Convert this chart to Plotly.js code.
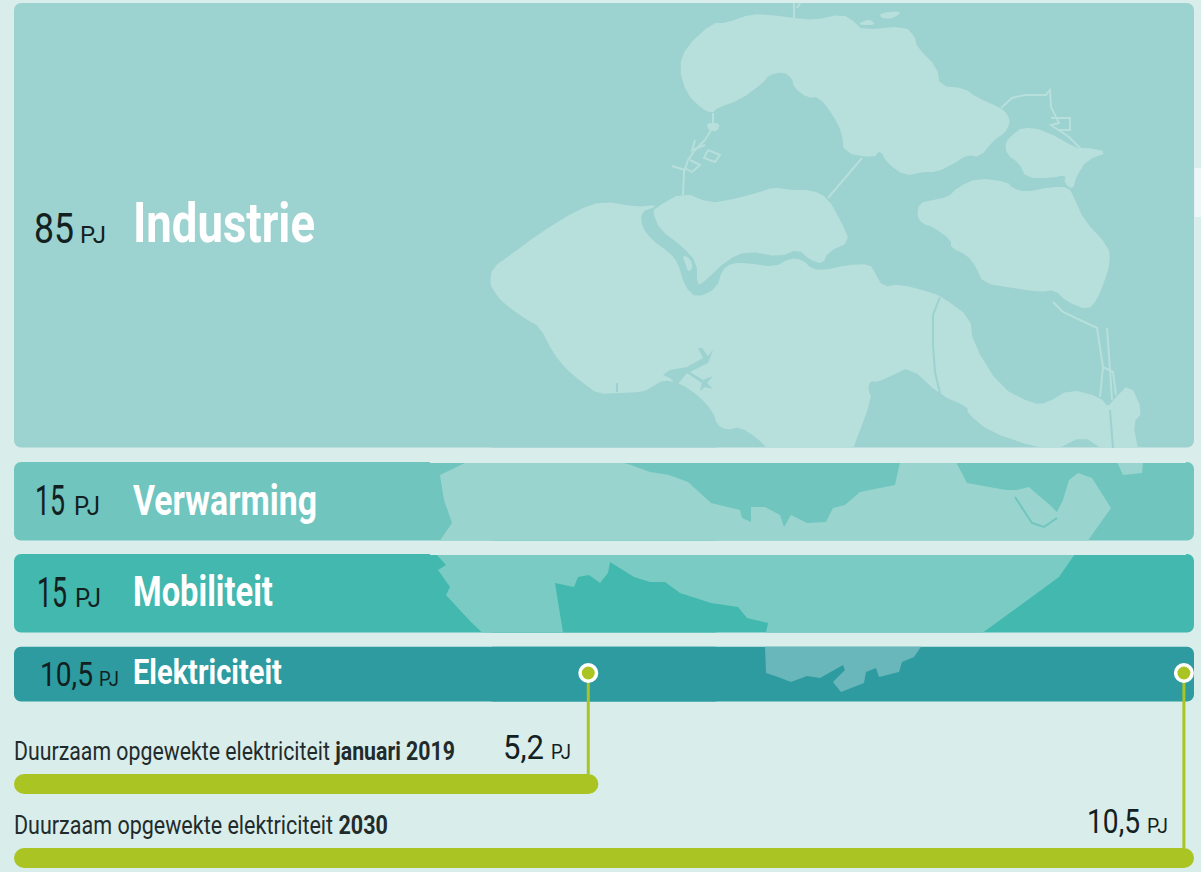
<!DOCTYPE html>
<html><head><meta charset="utf-8">
<script src="https://cdn.plot.ly/plotly-3.0.1.min.js"></script>
<style>html,body{margin:0;padding:0;background:#d9edeb}</style></head>
<body><div id="chart" style="width:1201px;height:872px"></div>
<script>
const categories=['Industrie','Verwarming','Mobiliteit','Elektriciteit'];
const demandPJ=[85,15,15,10.5];
const demandLabels=['85','15','15','10,5'];
const renewableYears=['januari 2019','2030'];
const renewablePJ=[5.2,10.5];
const renewableLabels=['5,2','10,5'];

const W=1201,H=872,BG='#d9edeb',GREEN='#aac523',FONT='Roboto,"DejaVu Sans Condensed",sans-serif';
const bandColors=['#9cd2cf','#70c5bf','#42b8ae','#2e9ba0'];
const landColors=['#b7dfdc','#99d5ce','#7acbc3','#69b7ba'];
const PX_PER_PJ=5.23, BAND_TOP=[3,462,554,646.7];
const FULL=10.5;

// decorative map of Zeeland, traced in page pixels
const land1=[
[[679,67],[686,47],[712,23],[726,23],[751,14],[772,15],[794,18],[815,20],[842,14],[855,22],[862,30],[905,26],[915,37],[917,47],[937,67],[940,86],[964,88],[976,97],[1001,108],[1008,115],[1010,123],[1005,133],[994,140],[980,157],[967,155],[955,163],[937,172],[923,172],[905,176],[887,163],[880,150],[874,158],[844,153],[842,133],[833,115],[819,97],[808,98],[794,88],[792,78],[783,72],[769,75],[763,83],[740,100],[717,108],[713,113],[703,110],[686,93]],
[[655,208],[683,192],[710,203],[729,200],[757,193],[774,187],[790,190],[812,190],[828,198],[842,223],[850,242],[828,252],[823,264],[810,260],[798,249],[780,257],[747,251],[727,260],[703,283],[697,285],[697,263],[683,247],[660,230],[653,213]],
[[490,283],[492,268],[513,253],[540,233],[577,210],[603,201],[637,207],[655,205],[655,207],[641,212],[642,227],[652,240],[670,253],[678,263],[685,287],[697,298],[717,288],[722,270],[732,263],[747,263],[775,267],[790,258],[803,260],[812,269],[825,270],[847,265],[870,264],[875,273],[883,287],[900,284],[933,293],[942,297],[970,317],[973,343],[1000,387],[1033,404],[1047,403],[1070,389],[1100,397],[1108,407],[1113,400],[1130,383],[1143,412],[1133,423],[1138,449],[1138,449],[1102,449],[1102,449],[1083,436],[1057,449],[1057,449],[1035,447],[990,432],[967,413],[968,407],[940,395],[910,367],[893,375],[878,382],[870,381],[868,390],[872,398],[853,449],[853,449],[768,449],[768,449],[757,438],[740,427],[727,430],[717,425],[713,412],[700,397],[680,383],[663,380],[652,387],[643,392],[620,393],[598,394],[583,383],[567,370],[553,353],[540,327],[527,320],[503,303],[493,290]],
[[1023,127],[1044,130],[1080,150],[1084,147],[1109,152],[1087,160],[1076,177],[1073,190],[1064,183],[1066,175],[1051,178],[1026,178],[1019,163],[1007,155],[1005,143],[1012,135]],
[[919,203],[933,200],[948,197],[958,187],[978,178],[1008,182],[1012,188],[1026,192],[1051,187],[1069,187],[1075,200],[1084,220],[1109,247],[1110,263],[1105,280],[1097,300],[1088,310],[1067,302],[1055,290],[1040,292],[1012,288],[983,283],[976,267],[967,255],[951,248],[951,240],[933,227],[923,224],[917,217]],
[[880,13],[900,11],[899,15],[890,19],[881,18]],
[[859,23],[870,19],[876,25],[860,25]],
[[682,255],[690,258],[693,268],[688,272],[686,265]],
[[706,123],[720,123],[718,131],[709,131]]
];
const land1Lines=[
[[862,158],[828,198]],
[[713,113],[713,127],[705,140],[695,150],[688,160],[684,172],[683,195]],
[[672,166],[685,170]],[[695,140],[692,150],[705,145]],
[[708,150],[720,155],[715,162],[704,158],[708,150]],
[[690,160],[700,165],[692,172],[685,168]],
[[794,3],[794,18]],[[800,3],[797,8]],
[[1001,108],[1012,98],[1025,95],[1046,95],[1050,90],[1051,107],[1059,123],[1051,125],[1069,137],[1082,150]],
[[1051,118],[1070,118],[1070,130],[1058,130]],
[[1053,302],[1063,312],[1097,328],[1103,367],[1100,397]],
[[1107,328],[1110,370],[1112,400]],
[[1103,367],[1113,372],[1116,395]]
];
const water1=[
[[663,375],[670,370],[687,367],[703,358],[698,348],[702,348],[708,356],[713,350],[708,363],[690,372],[703,380],[713,376],[707,383],[713,389],[705,387],[700,391],[702,383],[687,373],[677,385],[670,378]]
];
const water1Lines=[[[940,297],[933,315],[933,345],[935,372],[938,385],[940,393]],[[1110,410],[1113,448]],[[617,383],[617,392]]];
const land2=[
[[467,462],[440,475],[444,500],[452,523],[440,540.5],[1088,540.5],[1111,508],[1092,478],[1078,473],[1069,480],[1063,500],[1057,512],[1050,505],[1038,495],[1029,487],[1017,490],[1006,490],[967,483],[956,462],[900,462],[895,485],[860,492],[845,505],[833,508],[826,522],[807,523],[791,515],[784,527],[780,515],[765,507],[751,507],[751,522],[742,518],[740,510],[711,503],[688,482],[669,475],[650,472],[631,465],[620,462]],
[[1117,462],[1143,462],[1142,473],[1123,475]]
];
const band2Lines=[[[1015,497],[1032,523],[1044,527],[1057,518]],[[1048,503],[1060,500]]];
const land3=[
[[436,554],[446,565],[438,570],[450,587],[446,595],[457,607],[471,622],[482,632.5],[563,632.5],[555,583],[574,587],[578,577],[589,575],[600,583],[608,573],[610,562],[634,577],[650,582],[665,582],[680,593],[711,603],[738,607],[747,618],[768,623],[766,632.5],[983,632.5],[1059,577],[1075,554]]
];
const land4=[
[[765,646.7],[766,673],[778,677],[791,682],[807,676],[820,678],[843,665],[845,670],[833,682],[841,692],[864,683],[866,672],[876,668],[879,677],[899,672],[902,662],[914,657],[921,646.7]]
];

// round the traced coast a little
function soften(pts){
 const out=[];
 pts.forEach((p,i)=>{const q=pts[(i+1)%pts.length];
  out.push([p[0]*.75+q[0]*.25,p[1]*.75+q[1]*.25],[p[0]*.25+q[0]*.75,p[1]*.25+q[1]*.75]);});
 return out;
}
const X=p=>p/W, Y=p=>1-p/H;
const pathOf=pts=>'M'+pts.map(p=>X(p[0]).toFixed(5)+','+Y(p[1]).toFixed(5)).join('L');
const poly=(pts,c)=>({type:'path',layer:'above',xref:'paper',yref:'paper',path:pathOf(pts)+'Z',fillcolor:c,line:{width:0}});
const stroke=(pts,c,w)=>({type:'path',layer:'above',xref:'paper',yref:'paper',path:pathOf(pts),line:{color:c,width:w}});
const strip=(x0,x1,y0,y1,c)=>({type:'rect',layer:'above',xref:'paper',yref:'paper',x0:X(x0),x1:X(x1),y0:Y(y0),y1:Y(y1),fillcolor:c,line:{width:0}});
const shapes=[
 ...land1.map(p=>poly(soften(p),landColors[0])),
 ...land1Lines.map(p=>stroke(p,landColors[0],2)),
 ...water1.map(p=>poly(p,bandColors[0])),
 ...water1Lines.map(p=>stroke(p,bandColors[0],2)),
 ...land2.map(p=>poly(p,landColors[1])),
 ...band2Lines.map(p=>stroke(p,bandColors[1],2)),
 ...land3.map(p=>poly(p,landColors[2])),
 ...land4.map(p=>poly(p,landColors[3])),
 strip(430,1186,462,463,BG),
 strip(430,1186,554,555,BG),
 strip(20,1186,448,450,BG),
 strip(1194.5,W,168,217,'#eef7f7')
];

const texts=[];
function note(t,x,y,size,color,targetWidth){
 texts.push(targetWidth);
 return {text:t,x:X(x),y:Y(y),xref:'paper',yref:'paper',showarrow:false,xanchor:'left',yanchor:'middle',align:'left',font:{family:FONT,size:size,color:color},borderpad:0,borderwidth:0};
}
const INK='#12211f';
const numCfg=[
 {x:33.5,y:228,n:42,w:40,ux:79.5,uy:235,u:23,uw:26,ty:223,t:56,tw:182},
 {x:34.5,y:500,n:42,w:30,ux:73.5,uy:506,u:25,uw:26,ty:500,t:42,tw:184},
 {x:36.5,y:592,n:42,w:30,ux:74.5,uy:598,u:25,uw:26,ty:591.5,t:42,tw:140},
 {x:39.5,y:674,n:33,w:53,ux:98.5,uy:679,u:21,uw:20,ty:672.5,t:35,tw:149}];
const annotations=[];
categories.forEach((c,i)=>{
 const k=numCfg[i];
 annotations.push(note(demandLabels[i],k.x,k.y,k.n,INK,k.w));
 annotations.push(note('PJ',k.ux,k.uy,k.u,INK,k.uw));
 annotations.push(note('<b>'+c+'</b>',133,k.ty,k.t,'#ffffff',k.tw));
});
const renewCfg=[
 {y:751,w:441,nx:503,ny:747,nw:41,ux:550.5,uy:752,uw:20},
 {y:825,w:374,nx:1086.5,ny:820.5,nw:53,ux:1146.5,uy:826,uw:21}];
renewableYears.forEach((n,i)=>{
 const k=renewCfg[i];
 annotations.push(note('Duurzaam opgewekte elektriciteit <b>'+n+'</b>',13.5,k.y,25,'#222b2b',k.w));
 annotations.push(note(renewableLabels[i],k.nx,k.ny,34,INK,k.nw));
 annotations.push(note('PJ',k.ux,k.uy,20,INK,k.uw));
});

const bandY=demandPJ.map((v,i)=>BAND_TOP[i]+v*PX_PER_PJ/2);
const bandH=demandPJ.map(v=>v*PX_PER_PJ);
const GREEN_Y=[784,858], GREEN_H=20, DOT_INSET=0.09, DOT_Y=673;

// a bar rounds only its tip, so each bar is drawn as two overlapping halves
function twoEnded(vals,y,widths,colors,radius){
 const common={type:'bar',orientation:'h',y:y,width:widths,hoverinfo:'skip',marker:{color:colors,cornerradius:radius,line:{width:0}}};
 return [
  {...common,x:vals.map(v=>v*0.6),base:vals.map(v=>v*0.4)},
  {...common,x:vals.map(v=>-v*0.6),base:vals.map(v=>v*0.6)}
 ];
}
const traces=[
 ...twoEnded(demandPJ.map(()=>FULL),bandY,bandH,bandColors,7),
 ...twoEnded(renewablePJ,GREEN_Y,renewablePJ.map(()=>GREEN_H),renewablePJ.map(()=>GREEN),10),
 ...renewablePJ.map((v,i)=>({type:'scatter',mode:'lines',x:[v-DOT_INSET,v-DOT_INSET],y:[DOT_Y,GREEN_Y[i]-GREEN_H/2],line:{color:GREEN,width:3},hoverinfo:'skip'})),
 {type:'scatter',mode:'markers',x:renewablePJ.map(v=>v-DOT_INSET),y:renewablePJ.map(()=>DOT_Y),marker:{size:16.5,color:GREEN,line:{color:'#ffffff',width:3.5}},hoverinfo:'skip',cliponaxis:false}
];
const layout={width:W,height:H,margin:{l:0,r:0,t:0,b:0,pad:0},paper_bgcolor:BG,plot_bgcolor:BG,showlegend:false,barmode:'overlay',
 xaxis:{domain:[14/W,1194/W],range:[0,FULL],visible:false,fixedrange:true},
 yaxis:{domain:[0,1],range:[H,0],visible:false,fixedrange:true},
 shapes:shapes,annotations:annotations};
Plotly.newPlot('chart',traces,layout,{displayModeBar:false,staticPlot:true}).then(gd=>{
 // the reference type is condensed: narrow each real text to its measured width
 gd.querySelectorAll('.annotation').forEach(g=>{
  const i=+g.getAttribute('data-index');
  const t=g.querySelector('text');
  const x0=parseFloat(t.getAttribute('x'))||0;
  const sx=texts[i]/t.getComputedTextLength();
  t.setAttribute('transform','translate('+x0+',0) scale('+sx.toFixed(4)+',1) translate('+(-x0)+',0)');
 });
});
</script></body></html>
